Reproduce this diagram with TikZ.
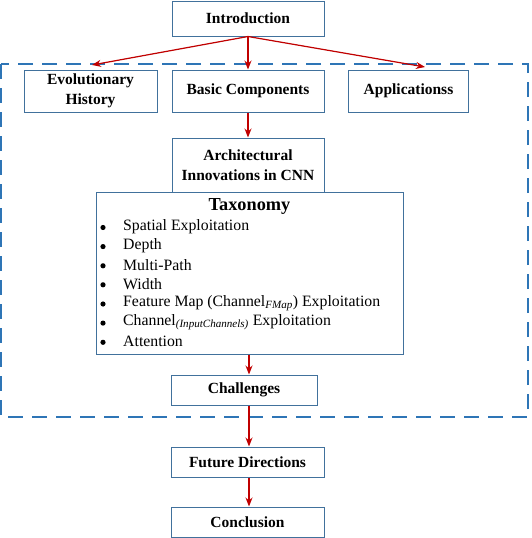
\documentclass[tikz,border=0pt]{standalone}
\usepackage{fontspec}
\setmainfont{Liberation Serif}
\usetikzlibrary{arrows.meta}
\definecolor{boxc}{HTML}{41719C}
\definecolor{dashc}{HTML}{2E75B6}
\definecolor{arrc}{HTML}{C00000}
\begin{document}
\begin{tikzpicture}[x=1pt,y=-1pt,
 box/.style={draw=boxc, fill=white, line width=1pt, inner sep=0pt, font=\fontsize{15.5}{20}\selectfont\bfseries, align=center},
 arr/.style={draw=arrc, fill=arrc, line width=1.2pt, -{Stealth[length=9pt,width=7pt]}},
 item/.style={anchor=west, inner sep=0pt, font=\fontsize{15.8}{19}\selectfont},
 bul/.style={circle, fill=black, inner sep=0pt, minimum size=5.2pt}]
\useasboundingbox (0,0) rectangle (531,538);
\draw[dashc, line width=1.3pt, dash pattern=on 15pt off 9pt] (1,64) rectangle (528,417);

\node[box, minimum width=152pt, minimum height=35pt] (intro) at (248,18.5) {Introduction};
\node[box, minimum width=133pt, minimum height=42pt] (evo) at (90.5,91) {Evolutionary\\History};
\node[box, minimum width=152pt, minimum height=42pt] (basic) at (248,91) {Basic Components};
\node[box, minimum width=120pt, minimum height=42pt] (appl) at (408.5,91) {Applicationss};
\node[box, minimum width=152pt, minimum height=54pt] (arch) at (248,165) {Architectural\\Innovations in CNN};
\node[box, minimum width=307pt, minimum height=162pt] (tax) at (249.5,273) {};
\node[inner sep=0pt, font=\fontsize{18.3}{22}\selectfont\bfseries] (taxt) at (249.5,206) {Taxonomy};

\node[bul] (b1) at (103,227.5) {};
\node[item] (i1) at (123,226.7) {Spatial Exploitation};
\node[bul] (b2) at (103,246.6) {};
\node[item] (i2) at (123,245.8) {Depth};
\node[bul] (b3) at (103,265.8) {};
\node[item] (i3) at (123,265) {Multi-Path};
\node[bul] (b4) at (103,284.8) {};
\node[item] (i4) at (123,284) {Width};
\node[bul] (b5) at (103,304) {};
\node[item] (i5) at (123,303.2) {Feature Map (Channel\textsubscript{\itshape FMap}) Exploitation};
\node[bul] (b6) at (103,323.1) {};
\node[item] (i6) at (123,322.3) {Channel\textsubscript{\itshape (InputChannels)} Exploitation};
\node[bul] (b7) at (103,342.3) {};
\node[item] (i7) at (123,341.5) {Attention};

\node[box, minimum width=146pt, minimum height=30pt] (chal) at (244,390) {Challenges};
\node[box, minimum width=153pt, minimum height=30pt] (fut) at (247.5,462) {Future Directions};
\node[box, minimum width=153pt, minimum height=30pt] (concl) at (247.5,522) {Conclusion};

\coordinate (evtip) at (92,65);
\coordinate (aptip) at (425,67);
\draw[arr] (intro.south) -- (evtip);
\draw[arr] (intro.south) -- (basic.north);
\draw[arr] (intro.south) -- (aptip);
\draw[arr] (basic.south) -- (arch.north);
\coordinate (cx) at (249,0);
\draw[arr] (tax.south -| cx) -- (chal.north -| cx);
\draw[arr] (chal.south -| cx) -- (fut.north -| cx);
\draw[arr] (fut.south -| cx) -- (concl.north -| cx);
\end{tikzpicture}
\end{document}
